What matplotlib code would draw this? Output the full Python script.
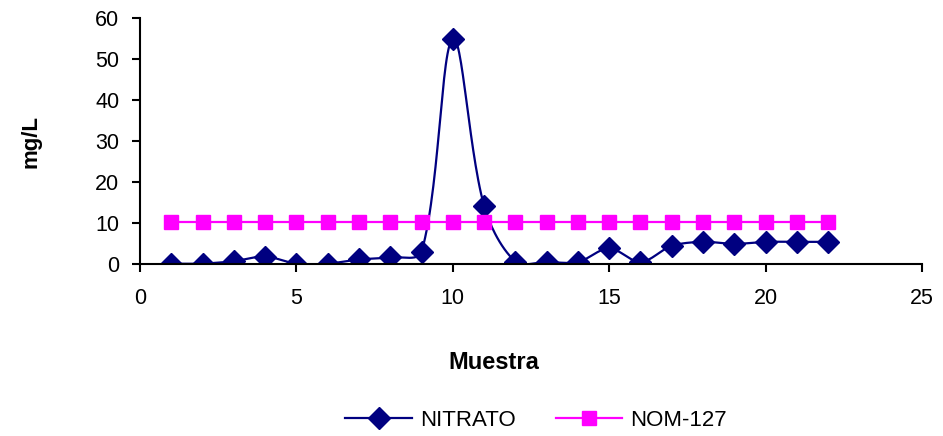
import numpy as np
import matplotlib.pyplot as plt

plt.rcParams['font.family'] = ['Liberation Sans', 'DejaVu Sans']

muestra = [1, 2, 3, 4, 5, 6, 7, 8, 9, 10, 11, 12, 13, 14, 15, 16, 17, 18, 19, 20, 21, 22]
nitrato = [0.1, 0.1, 0.7, 1.8, 0.1, 0.1, 1.1, 1.6, 2.9, 55, 14.2, 0.6,
           0.5, 0.5, 3.8, 0.5, 4.4, 5.4, 4.9, 5.4, 5.4, 5.4]
nom127 = [10.2] * 22


def smooth(x, y, sx=31.3, sy=4.1, n=30):
    # Excel-like smoothed line: bezier segments, tangents weighted by
    # segment length measured in pixels
    x = np.asarray(x, float)
    y = np.asarray(y, float)
    P = np.column_stack([x, y])
    S = np.array([sx, sy])
    m = len(x)
    d = [np.hypot(*((P[i + 1] - P[i]) * S)) for i in range(m - 1)]
    t = np.linspace(0, 1, n)
    out = []
    for i in range(m - 1):
        p0 = P[max(i - 1, 0)]
        p1 = P[i]
        p2 = P[i + 1]
        p3 = P[min(i + 2, m - 1)]
        dprev = d[i - 1] if i > 0 else d[i]
        dnext = d[i + 1] if i < m - 2 else d[i]
        c1 = p1 + (p2 - p0) * d[i] / (dprev + d[i]) / 3
        c2 = p2 - (p3 - p1) * d[i] / (d[i] + dnext) / 3
        pts = (np.outer((1 - t) ** 3, p1) + np.outer(3 * (1 - t) ** 2 * t, c1)
               + np.outer(3 * (1 - t) * t ** 2, c2) + np.outer(t ** 3, p2))
        out.append(pts)
    out = np.vstack(out)
    return out[:, 0], out[:, 1]


fig = plt.figure(figsize=(9.43, 4.36), dpi=100)
ax = fig.add_axes([0.1485, 0.3945, 0.8292, 0.5642])

sx, sy = smooth(muestra, nitrato)
ax.plot(sx, sy, color='#000080', lw=1.6)
ax.plot(muestra, nitrato, ls='none', marker='D', color='#000080', ms=11)
ax.plot(muestra, nom127, color='#FF00FF', lw=1.6, marker='s', ms=10)

ax.set_xlim(0, 25)
ax.set_ylim(0, 60)
ax.set_xticks([0, 5, 10, 15, 20, 25])
ax.set_yticks(range(0, 61, 10))
for s in ['top', 'right']:
    ax.spines[s].set_visible(False)
for s in ['left', 'bottom']:
    ax.spines[s].set_linewidth(1.5)
ax.tick_params(labelsize=15.5, width=1.5, length=6, direction='out')
ax.tick_params(axis='x', pad=11)
ax.tick_params(axis='y', pad=9)

fig.text(31 / 943, 1 - 141 / 436, 'mg/L', rotation=90, fontsize=16,
         fontweight='bold', ha='center', va='center')
fig.text(494 / 943, 1 - 362 / 436, 'Muestra', fontsize=17,
         fontweight='bold', ha='center', va='center')

h1, = ax.plot([], [], color='#000080', lw=1.6, marker='D', ms=11)
h2, = ax.plot([], [], color='#FF00FF', lw=1.6, marker='s', ms=10)
fig.legend([h1, h2], ['NITRATO', 'NOM-127'], loc='center',
           bbox_to_anchor=(536 / 943, 1 - 420 / 436),
           ncol=2, frameon=False, fontsize=16, handlelength=3.0, columnspacing=1.8,
           handletextpad=0.35)

fig.savefig('out.png', dpi=100)
